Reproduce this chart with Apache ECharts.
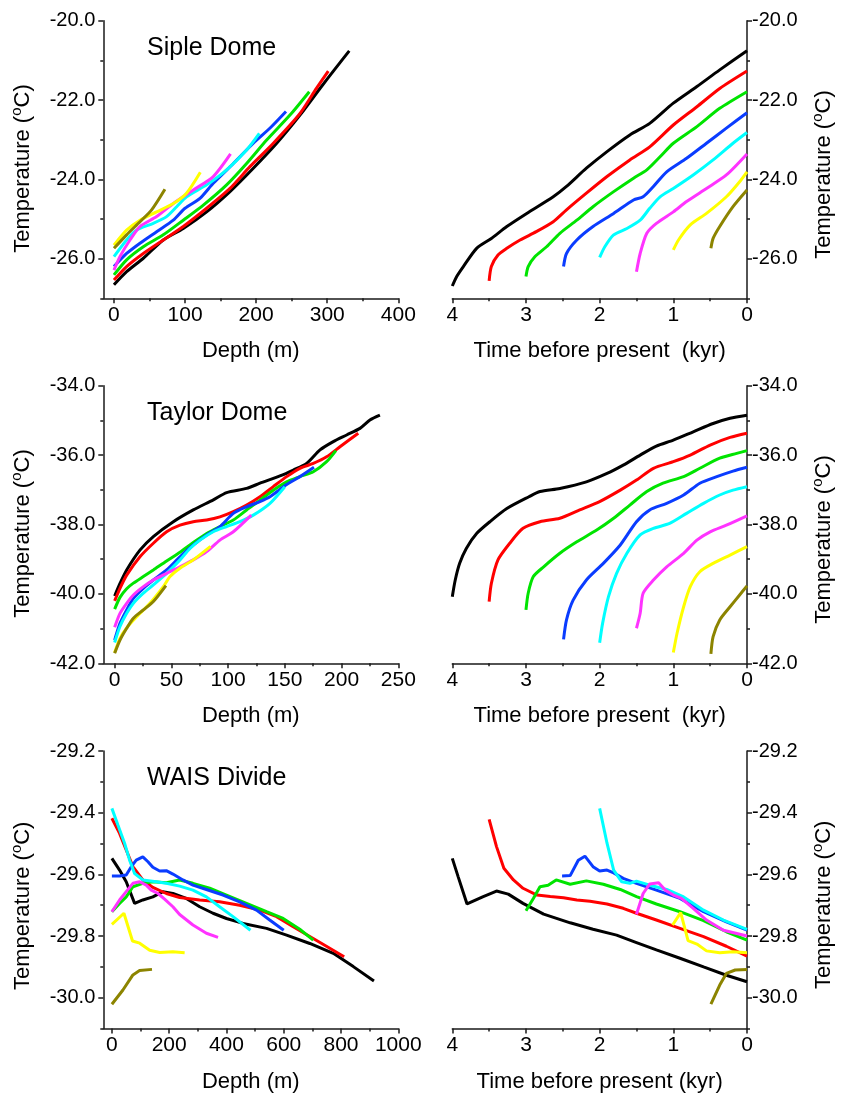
<!DOCTYPE html>
<html><head><meta charset="utf-8">
<script src="https://cdn.jsdelivr.net/npm/echarts@6/dist/echarts.min.js"></script>
<style>html,body{margin:0;padding:0;background:#fff}#c{width:842px;height:1097px}</style>
</head><body><div id="c"></div>
<script>
// ---------------- DATA ----------------
const curveNames = ['black','red','green','blue','cyan','magenta','yellow','olive'];
const curveColors = ['#000000','#ff0000','#00e400','#0a3cff','#00ffff','#ff33ff','#ffff00','#8c8400'];

// Siple Dome: temperature vs depth (m)
const sipleDepth_black = [[0,-26.66],[17.8,-26.33],[41.3,-25.99],[69.4,-25.53],[97.5,-25.24],[130.4,-24.82],[163.2,-24.31],[196,-23.72],[228.9,-23.09],[261.7,-22.38],[289.8,-21.71],[310,-21.24],[331,-20.76]];
const sipleDepth_red = [[0,-26.54],[17.8,-26.20],[41.3,-25.87],[69.4,-25.53],[97.5,-25.19],[130.4,-24.73],[163.2,-24.23],[191.3,-23.68],[224.2,-23.09],[261.7,-22.34],[285,-21.7],[301.5,-21.27]];
const sipleDepth_green = [[0,-26.41],[17.8,-26.03],[41.3,-25.70],[69.4,-25.40],[97.5,-25.03],[125.7,-24.65],[158.5,-24.14],[186.6,-23.60],[214.8,-23.01],[247.6,-22.38],[274.8,-21.79]];
const sipleDepth_blue = [[0,-26.20],[17.8,-25.87],[36.6,-25.61],[60,-25.32],[83.5,-25.03],[99.9,-24.73],[121,-24.48],[139.7,-24.10],[167.9,-23.60],[196,-23.09],[220,-22.70],[242,-22.29]];
const sipleDepth_cyan = [[0,-25.95],[17.8,-25.53],[31.9,-25.28],[55.3,-25.11],[74,-24.94],[88.2,-24.69],[102.2,-24.44],[130.4,-24.14],[158.5,-23.76],[186.6,-23.26],[204.5,-22.84]];
const sipleDepth_magenta = [[0,-26.29],[8.4,-25.95],[22.5,-25.53],[36.6,-25.19],[60,-24.94],[83.5,-24.61],[111.6,-24.27],[139.7,-23.93],[164,-23.36]];
const sipleDepth_yellow = [[0,-25.66],[17.8,-25.28],[36.6,-25.03],[60,-24.82],[83.5,-24.61],[102,-24.35],[121.5,-23.82]];
const sipleDepth_olive = [[0,-25.74],[17.8,-25.40],[36.6,-25.07],[53,-24.77],[71.7,-24.25]];

// Siple Dome: temperature vs time before present (kyr)
const sipleTime_black = [[4.0,-26.69],[3.94,-26.45],[3.85,-26.20],[3.67,-25.74],[3.47,-25.49],[3.26,-25.19],[2.99,-24.86],[2.63,-24.44],[2.45,-24.18],[2.18,-23.72],[1.90,-23.30],[1.59,-22.88],[1.32,-22.59],[1.0,-22.08],[0.68,-21.66],[0.37,-21.24],[0,-20.76]];
const sipleTime_red = [[3.50,-26.56],[3.47,-26.20],[3.38,-25.91],[3.26,-25.74],[3.08,-25.53],[2.86,-25.32],[2.63,-25.07],[2.45,-24.77],[2.18,-24.35],[1.90,-23.93],[1.59,-23.51],[1.32,-23.18],[1.0,-22.63],[0.68,-22.17],[0.37,-21.71],[0,-21.27]];
const sipleTime_green = [[3.0,-26.45],[2.97,-26.2],[2.88,-25.95],[2.72,-25.70],[2.54,-25.36],[2.31,-25.03],[2.09,-24.69],[1.81,-24.31],[1.54,-23.97],[1.36,-23.76],[1.18,-23.43],[1.0,-23.09],[0.68,-22.67],[0.37,-22.21],[0,-21.79]];
const sipleTime_blue = [[2.49,-26.20],[2.45,-25.87],[2.31,-25.53],[2.09,-25.19],[1.81,-24.86],[1.54,-24.52],[1.41,-24.44],[1.27,-24.18],[1.09,-23.81],[0.82,-23.47],[0.55,-23.09],[0.28,-22.71],[0,-22.32]];
const sipleTime_cyan = [[2.0,-25.97],[1.93,-25.70],[1.81,-25.40],[1.63,-25.24],[1.45,-25.03],[1.32,-24.73],[1.18,-24.44],[1.0,-24.23],[0.73,-23.89],[0.46,-23.51],[0.19,-23.09],[0,-22.82]];
const sipleTime_magenta = [[1.50,-26.33],[1.45,-25.87],[1.36,-25.36],[1.23,-25.11],[1.0,-24.82],[0.82,-24.56],[0.55,-24.23],[0.28,-23.89],[0,-23.36]];
const sipleTime_yellow = [[1.0,-25.78],[0.93,-25.53],[0.77,-25.15],[0.55,-24.86],[0.28,-24.44],[0.10,-24.06],[0,-23.81]];
const sipleTime_olive = [[0.49,-25.74],[0.46,-25.49],[0.37,-25.19],[0.19,-24.69],[0,-24.27]];

// Taylor Dome: temperature vs depth (m)
const taylorDepth_black = [[0,-40.06],[4.7,-39.70],[10.6,-39.31],[22.3,-38.74],[34.1,-38.35],[51.7,-37.92],[69.3,-37.58],[87,-37.29],[98.7,-37.08],[116.3,-36.96],[128.1,-36.81],[145.7,-36.60],[157.5,-36.43],[169.2,-36.24],[181,-35.85],[192.7,-35.61],[204.5,-35.42],[216.2,-35.23],[225,-34.99],[233.8,-34.85]];
const taylorDepth_red = [[0,-40.20],[4.7,-39.84],[10.6,-39.46],[22.3,-38.93],[34.1,-38.54],[45.8,-38.21],[57.6,-38.02],[69.3,-37.92],[81.1,-37.87],[92.8,-37.78],[104.6,-37.63],[116.3,-37.44],[128.1,-37.20],[139.8,-36.91],[151.6,-36.62],[163.3,-36.38],[175.1,-36.24],[186.8,-36.05],[198.6,-35.76],[214.7,-35.37]];
const taylorDepth_green = [[0,-40.44],[4.7,-40.10],[10.6,-39.85],[16.5,-39.69],[25.3,-39.50],[34.1,-39.31],[45.8,-39.05],[57.6,-38.80],[69.3,-38.52],[81.1,-38.26],[92.8,-38.06],[104.6,-37.87],[116.3,-37.58],[128.1,-37.30],[139.8,-37.01],[151.6,-36.77],[163.3,-36.62],[175.1,-36.48],[186.8,-36.19],[195,-35.87]];
const taylorDepth_blue = [[0,-41.33],[4.7,-40.85],[10.6,-40.46],[16.5,-40.13],[25.3,-39.84],[34.1,-39.60],[45.8,-39.31],[57.6,-38.93],[69.3,-38.59],[81.1,-38.30],[92.8,-38.06],[104.6,-37.68],[116.3,-37.49],[128,-37.34],[136.9,-37.20],[151.6,-36.85],[163.3,-36.62],[175.7,-36.35]];
const taylorDepth_cyan = [[0,-41.40],[4.7,-40.94],[10.6,-40.56],[16.5,-40.27],[25.3,-39.98],[34.1,-39.74],[45.8,-39.41],[57.6,-39.02],[66.4,-38.69],[75.2,-38.45],[86.9,-38.21],[98.7,-38.06],[110.4,-37.92],[122.2,-37.73],[136.9,-37.39],[150,-36.91]];
const taylorDepth_magenta = [[0,-40.96],[4.7,-40.56],[10.6,-40.27],[16.5,-40.03],[25.3,-39.79],[34.1,-39.60],[45.8,-39.41],[57.6,-39.22],[69.3,-39.02],[81.1,-38.78],[92.8,-38.45],[104.6,-38.21],[120.4,-37.73]];
const taylorDepth_yellow = [[0,-41.69],[4.7,-41.28],[10.6,-40.98],[19.4,-40.66],[31.1,-40.27],[42.9,-39.79],[48.8,-39.50],[57.6,-39.26],[69.3,-39.02],[84.5,-38.63]];
const taylorDepth_olive = [[0,-41.71],[4.7,-41.33],[10.6,-40.99],[16.5,-40.70],[25.3,-40.46],[34.1,-40.22],[45.2,-39.76]];

// Taylor Dome: temperature vs time before present (kyr)
const taylorTime_black = [[4.0,-40.08],[3.96,-39.60],[3.90,-39.12],[3.81,-38.69],[3.67,-38.26],[3.49,-37.92],[3.26,-37.54],[2.96,-37.20],[2.81,-37.05],[2.54,-36.96],[2.18,-36.77],[1.90,-36.53],[1.68,-36.29],[1.45,-36.0],[1.23,-35.74],[1.0,-35.57],[0.73,-35.33],[0.46,-35.09],[0.23,-34.94],[0,-34.85]];
const taylorTime_red = [[3.50,-40.22],[3.47,-39.70],[3.38,-39.02],[3.22,-38.54],[3.04,-38.11],[2.81,-37.92],[2.54,-37.82],[2.27,-37.58],[2.0,-37.34],[1.72,-37.01],[1.50,-36.72],[1.27,-36.38],[1.0,-36.19],[0.77,-36.0],[0.50,-35.71],[0.23,-35.49],[0,-35.37]];
const taylorTime_green = [[3.0,-40.46],[2.97,-39.98],[2.90,-39.50],[2.76,-39.22],[2.54,-38.83],[2.31,-38.50],[2.04,-38.16],[1.81,-37.82],[1.59,-37.44],[1.36,-37.05],[1.14,-36.81],[0.86,-36.62],[0.64,-36.38],[0.37,-36.09],[0.14,-35.95],[0,-35.87]];
const taylorTime_blue = [[2.49,-41.31],[2.45,-40.75],[2.36,-40.18],[2.18,-39.60],[1.95,-39.12],[1.72,-38.59],[1.50,-37.92],[1.32,-37.58],[1.09,-37.39],[0.86,-37.15],[0.64,-36.81],[0.41,-36.62],[0.19,-36.46],[0,-36.35]];
const taylorTime_cyan = [[2.0,-41.41],[1.96,-40.85],[1.88,-40.08],[1.77,-39.41],[1.63,-38.83],[1.45,-38.30],[1.27,-38.11],[1.05,-37.97],[0.82,-37.68],[0.59,-37.39],[0.37,-37.15],[0.19,-37.01],[0,-36.91]];
const taylorTime_magenta = [[1.50,-40.99],[1.45,-40.56],[1.41,-39.98],[1.27,-39.60],[1.09,-39.22],[0.86,-38.83],[0.68,-38.45],[0.50,-38.21],[0.28,-38.02],[0,-37.75]];
const taylorTime_yellow = [[1.0,-41.69],[0.95,-41.14],[0.86,-40.37],[0.77,-39.79],[0.64,-39.36],[0.46,-39.12],[0.23,-38.88],[0,-38.64]];
const taylorTime_olive = [[0.49,-41.73],[0.46,-41.23],[0.37,-40.75],[0.23,-40.37],[0.10,-40.03],[0,-39.77]];

// WAIS Divide: temperature vs depth (m)
const waisDepth_black = [[0,-29.548],[26.8,-29.586],[50,-29.624],[79.3,-29.694],[108,-29.683],[143,-29.673],[178,-29.656],[213,-29.662],[260,-29.678],[306.5,-29.705],[353,-29.726],[400,-29.743],[458,-29.759],[540,-29.775],[610,-29.797],[691,-29.824],[773,-29.856],[843,-29.899],[915,-29.946]];
const waisDepth_red = [[0,-29.418],[26.8,-29.467],[50,-29.521],[73.4,-29.575],[108,-29.618],[143,-29.642],[190,-29.662],[236.6,-29.675],[306.5,-29.683],[376,-29.689],[446,-29.700],[516,-29.716],[575,-29.737],[633,-29.770],[703,-29.808],[811,-29.867]];
const waisDepth_green = [[0,-29.721],[26.8,-29.694],[50,-29.673],[73.4,-29.640],[108,-29.629],[143,-29.624],[190,-29.627],[236.6,-29.618],[283,-29.629],[341.5,-29.645],[400,-29.667],[470,-29.694],[540,-29.721],[598,-29.743],[656,-29.778],[703,-29.813]];
const waisDepth_blue = [[0,-29.605],[26.8,-29.605],[50,-29.602],[67.6,-29.575],[85,-29.554],[108,-29.543],[126,-29.559],[143,-29.577],[166.7,-29.589],[190,-29.588],[213,-29.599],[248,-29.618],[283,-29.635],[330,-29.649],[388,-29.667],[446,-29.689],[505,-29.716],[551,-29.748],[600,-29.781]];
const waisDepth_cyan = [[0,-29.386],[21,-29.440],[44.3,-29.499],[61.8,-29.554],[79.3,-29.597],[108,-29.618],[155,-29.624],[190,-29.629],[236.6,-29.638],[283,-29.651],[330,-29.673],[376,-29.705],[423,-29.737],[483.7,-29.781]];
const waisDepth_magenta = [[0,-29.721],[26.8,-29.683],[50,-29.656],[73.4,-29.629],[96.7,-29.624],[120,-29.635],[137.5,-29.651],[161,-29.662],[184,-29.680],[213,-29.705],[236.6,-29.730],[283,-29.764],[330,-29.791],[370.6,-29.804]];
const waisDepth_yellow = [[0,-29.762],[42,-29.726],[72,-29.816],[97,-29.823],[132,-29.846],[167,-29.853],[213,-29.851],[254,-29.854]];
const waisDepth_olive = [[0,-30.021],[38.5,-29.975],[73.4,-29.926],[96.7,-29.912],[140,-29.908]];

// WAIS Divide: temperature vs time before present (kyr)
const waisTime_black = [[4.0,-29.548],[3.92,-29.608],[3.80,-29.696],[3.58,-29.672],[3.40,-29.654],[3.24,-29.664],[3.04,-29.694],[2.76,-29.729],[2.40,-29.757],[2.09,-29.778],[1.77,-29.797],[1.50,-29.821],[1.23,-29.845],[0.91,-29.872],[0.59,-29.900],[0.28,-29.927],[0,-29.948]];
const waisTime_red = [[3.50,-29.422],[3.40,-29.510],[3.30,-29.580],[3.17,-29.618],[3.04,-29.645],[2.85,-29.667],[2.67,-29.672],[2.49,-29.676],[2.31,-29.683],[2.13,-29.687],[1.90,-29.696],[1.68,-29.710],[1.50,-29.726],[1.23,-29.748],[0.91,-29.775],[0.59,-29.802],[0.28,-29.833],[0,-29.865]];
const waisTime_green = [[3.0,-29.718],[2.90,-29.678],[2.81,-29.640],[2.70,-29.635],[2.59,-29.618],[2.40,-29.632],[2.18,-29.621],[1.95,-29.632],[1.72,-29.649],[1.50,-29.672],[1.23,-29.696],[0.91,-29.721],[0.59,-29.750],[0.28,-29.786],[0,-29.813]];
const waisTime_blue = [[2.51,-29.605],[2.40,-29.604],[2.29,-29.554],[2.20,-29.541],[2.09,-29.575],[2.0,-29.589],[1.90,-29.586],[1.81,-29.595],[1.68,-29.613],[1.50,-29.629],[1.23,-29.651],[0.91,-29.678],[0.59,-29.721],[0.28,-29.754],[0,-29.781]];
const waisTime_cyan = [[2.0,-29.386],[1.90,-29.499],[1.81,-29.586],[1.70,-29.624],[1.59,-29.629],[1.50,-29.622],[1.32,-29.635],[1.09,-29.649],[0.86,-29.673],[0.59,-29.716],[0.32,-29.748],[0,-29.778]];
const waisTime_magenta = [[1.50,-29.729],[1.41,-29.662],[1.32,-29.631],[1.20,-29.627],[1.11,-29.651],[1.0,-29.667],[0.89,-29.678],[0.73,-29.710],[0.55,-29.748],[0.32,-29.781],[0,-29.800]];
const waisTime_yellow = [[1.01,-29.764],[0.90,-29.724],[0.80,-29.815],[0.68,-29.826],[0.55,-29.848],[0.37,-29.854],[0.19,-29.851],[0,-29.854]];
const waisTime_olive = [[0.49,-30.021],[0.37,-29.959],[0.28,-29.921],[0.16,-29.910],[0,-29.908]];

// Tick labels
const sipleTempMajor = [-26,-24,-22,-20], sipleTempMinor = [-27,-25,-23,-21];
const taylorTempMajor = [-42,-40,-38,-36,-34], taylorTempMinor = [-41,-39,-37,-35];
const waisTempMajor = [-30.0,-29.8,-29.6,-29.4,-29.2], waisTempMinor = [-30.1,-29.9,-29.7,-29.5,-29.3];
const sipleDepthMajor = [0,100,200,300,400], sipleDepthMinor = [50,150,250,350];
const taylorDepthMajor = [0,50,100,150,200,250], taylorDepthMinor = [25,75,125,175,225];
const waisDepthMajor = [0,200,400,600,800,1000], waisDepthMinor = [100,300,500,700,900];
const timeMajor = [0,1,2,3,4], timeMinor = [0.5,1.5,2.5,3.5];
const siteTitles = ['Siple Dome','Taylor Dome','WAIS Divide'];

// ---------------- CHART ----------------
const FONT = '"Liberation Sans", Arial, Helvetica, sans-serif';
const AX = '#1a1a1a';
const rowTops = [20.7, 385.7, 751];
const rowH = 277.6;

const panels = [
  {row:0, side:'left', x:{min:-15,max:400,major:sipleDepthMajor,minor:sipleDepthMinor}, y:{min:-27,max:-20,major:sipleTempMajor,minor:sipleTempMinor}, xName:'Depth (m)', smooth:true,
   curves:[sipleDepth_black,sipleDepth_red,sipleDepth_green,sipleDepth_blue,sipleDepth_cyan,sipleDepth_magenta,sipleDepth_yellow,sipleDepth_olive]},
  {row:0, side:'right', x:{min:0,max:4,inverse:true,major:timeMajor,minor:timeMinor}, y:{min:-27,max:-20,major:sipleTempMajor,minor:sipleTempMinor}, xName:'Time before present  (kyr)', smooth:true,
   curves:[sipleTime_black,sipleTime_red,sipleTime_green,sipleTime_blue,sipleTime_cyan,sipleTime_magenta,sipleTime_yellow,sipleTime_olive]},
  {row:1, side:'left', x:{min:-10,max:250,major:taylorDepthMajor,minor:taylorDepthMinor}, y:{min:-42,max:-34,major:taylorTempMajor,minor:taylorTempMinor}, xName:'Depth (m)', smooth:true,
   curves:[taylorDepth_black,taylorDepth_red,taylorDepth_green,taylorDepth_blue,taylorDepth_cyan,taylorDepth_magenta,taylorDepth_yellow,taylorDepth_olive]},
  {row:1, side:'right', x:{min:0,max:4,inverse:true,major:timeMajor,minor:timeMinor}, y:{min:-42,max:-34,major:taylorTempMajor,minor:taylorTempMinor}, xName:'Time before present  (kyr)', smooth:true,
   curves:[taylorTime_black,taylorTime_red,taylorTime_green,taylorTime_blue,taylorTime_cyan,taylorTime_magenta,taylorTime_yellow,taylorTime_olive]},
  {row:2, side:'left', x:{min:-30,max:1000,major:waisDepthMajor,minor:waisDepthMinor}, y:{min:-30.1,max:-29.2,major:waisTempMajor,minor:waisTempMinor}, xName:'Depth (m)', smooth:false,
   curves:[waisDepth_black,waisDepth_red,waisDepth_green,waisDepth_blue,waisDepth_cyan,waisDepth_magenta,waisDepth_yellow,waisDepth_olive]},
  {row:2, side:'right', x:{min:0,max:4,inverse:true,major:timeMajor,minor:timeMinor}, y:{min:-30.1,max:-29.2,major:waisTempMajor,minor:waisTempMinor}, xName:'Time before present (kyr)', smooth:false,
   curves:[waisTime_black,waisTime_red,waisTime_green,waisTime_blue,waisTime_cyan,waisTime_magenta,waisTime_yellow,waisTime_olive]}
];

const grid = [], xAxis = [], yAxis = [], series = [];
const lineCfg = {color: AX, width: 1.5};

panels.forEach((p, g) => {
  const left = p.side === 'left' ? 103.3 : 452.3;
  const width = p.side === 'left' ? 295 : 294.7;
  grid.push({left: left, top: rowTops[p.row], width: width, height: rowH, containLabel: false});

  xAxis.push({
    type:'value', gridIndex:g, position:'bottom', min:p.x.min, max:p.x.max, inverse:!!p.x.inverse,
    name:p.xName, nameLocation:'middle', nameGap:42,
    nameTextStyle:{fontSize:22, color:'#000', fontFamily:FONT},
    axisLine:{show:true, onZero:false, lineStyle:lineCfg},
    axisTick:{show:true, inside:false, length:5, customValues:p.x.major, lineStyle:lineCfg},
    axisLabel:{show:true, customValues:p.x.major, margin:6, fontSize:21, color:'#000', fontFamily:FONT, formatter: v => String(v)},
    splitLine:{show:false}
  });
  xAxis.push({
    type:'value', gridIndex:g, position:'bottom', min:p.x.min, max:p.x.max, inverse:!!p.x.inverse,
    axisLine:{show:false, onZero:false},
    axisTick:{show:true, inside:false, length:3, customValues:p.x.minor, lineStyle:lineCfg},
    axisLabel:{show:false}, splitLine:{show:false}
  });
  const nameShift = p.side === 'left' ? (p.row === 2 ? 32 : 18) : 30;
  yAxis.push({
    type:'value', gridIndex:g, position:p.side, min:p.y.min, max:p.y.max,
    name:'{t|Temperature (}{s|o}{t|C)}', nameLocation:'middle', nameRotate:90,
    nameGap: p.side === 'left' ? 66 : 63,
    nameTextStyle:{fontSize:22, color:'#000', fontFamily:FONT, padding:[0, nameShift, 0, 0],
      rich:{t:{fontSize:22, lineHeight:28, color:'#000', fontFamily:FONT},
            s:{fontSize:15, lineHeight:15, color:'#000', fontFamily:FONT, verticalAlign:'top'}}},
    axisLine:{show:true, onZero:false, lineStyle:lineCfg},
    axisTick:{show:true, inside:false, length:5, customValues:p.y.major, lineStyle:lineCfg},
    axisLabel:{show:true, customValues:p.y.major, margin: p.side === 'left' ? 8 : 5, fontSize:20, color:'#000', fontFamily:FONT, formatter: v => v.toFixed(1)},
    splitLine:{show:false}
  });
  yAxis.push({
    type:'value', gridIndex:g, position:p.side, min:p.y.min, max:p.y.max,
    axisLine:{show:false, onZero:false},
    axisTick:{show:true, inside:false, length:3, customValues:p.y.minor, lineStyle:lineCfg},
    axisLabel:{show:false}, splitLine:{show:false}
  });
  p.curves.forEach((data, i) => {
    series.push({
      type:'line', name: curveNames[i], xAxisIndex:2*g, yAxisIndex:2*g, data:data,
      showSymbol:false, symbol:'none', smooth: p.smooth ? 0.25 : false,
      lineStyle:{color:curveColors[i], width:3}, itemStyle:{color:curveColors[i]},
      z: 2 + i, silent:true
    });
  });
});

const title = siteTitles.map((t, r) => ({
  text:t, left:147, top:rowTops[r] + 15, padding:0,
  textStyle:{fontSize:25, fontWeight:'normal', color:'#000', fontFamily:FONT}
}));

const chart = echarts.init(document.getElementById('c'), null, {renderer:'canvas'});
chart.setOption({animation:false, backgroundColor:'#ffffff', title, grid, xAxis, yAxis, series});
</script></body></html>
